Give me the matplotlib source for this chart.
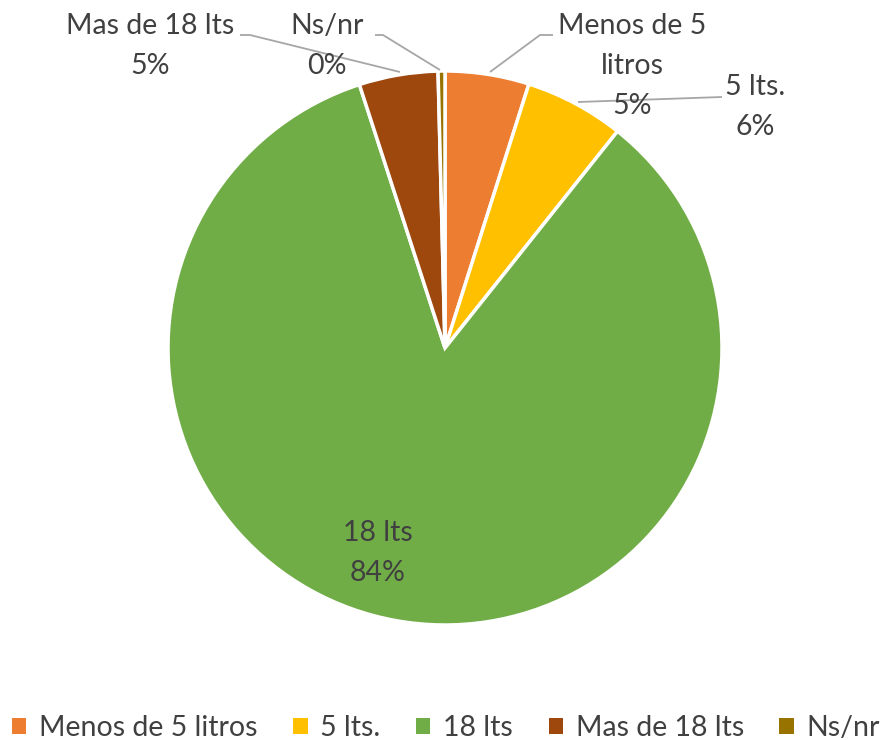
import matplotlib
matplotlib.use("Agg")
import matplotlib.pyplot as plt
from matplotlib.patches import Patch

categories = ["Menos de 5 litros", "5 lts.", "18 lts", "Mas de 18 lts", "Ns/nr"]
values = [4.9, 5.8, 84.3, 4.6, 0.4]
pct_labels = ["5%", "6%", "84%", "5%", "0%"]
label_names = ["Menos de 5\nlitros", "5 lts.", "18 lts", "Mas de 18 lts", "Ns/nr"]
colors = ["#ED7D31", "#FFC000", "#70AD47", "#9E480E", "#997300"]

plt.rcParams['font.family'] = ['Lato', 'DejaVu Sans']
TXT = "#404040"
FS = 20.5

W, H = 892, 740
fig = plt.figure(figsize=(W / 100, H / 100), dpi=100)
ax = fig.add_axes([0, 0, 1, 1])


def Y(y):
    return H - y


cx, cy, r = 445, 348, 277
ax.pie(values, colors=colors, startangle=90, counterclock=False,
       center=(cx, Y(cy)), radius=r, frame=True,
       wedgeprops=dict(edgecolor='white', linewidth=2.5))
ax.set_xlim(0, W)
ax.set_ylim(0, H)
ax.set_aspect('equal')
ax.axis('off')

# labels (positions in pixel coords)
lab_pos = [(632, 66), (755, 107), (378, 553), (150, 46), (327, 46)]
for name, pct, (x, y) in zip(label_names, pct_labels, lab_pos):
    ax.text(x, Y(y), f"{name}\n{pct}", ha='center', va='center', fontsize=FS,
            color=TXT, linespacing=1.65)

lc = "#A6A6A6"
leaders = [
    [(490, 72), (540, 35), (553, 35)],
    [(578, 102), (722, 97)],
    [(240, 35), (250, 35), (400, 72)],
    [(375, 35), (383, 35), (440, 70)],
]
for pts in leaders:
    xs, ys = zip(*pts)
    ax.plot(xs, [Y(v) for v in ys], color=lc, lw=1.3, solid_capstyle='butt')

handles = [Patch(facecolor=c, edgecolor='none') for c in colors]
fig.legend(handles, categories, loc='center', bbox_to_anchor=(0.5, 1 - 728 / H),
           ncol=5, frameon=False, fontsize=FS, labelcolor=TXT,
           handlelength=0.5, handleheight=0.5, handletextpad=0.45,
           columnspacing=1.25, borderaxespad=0, borderpad=0)

fig.savefig("out.png", dpi=100)
